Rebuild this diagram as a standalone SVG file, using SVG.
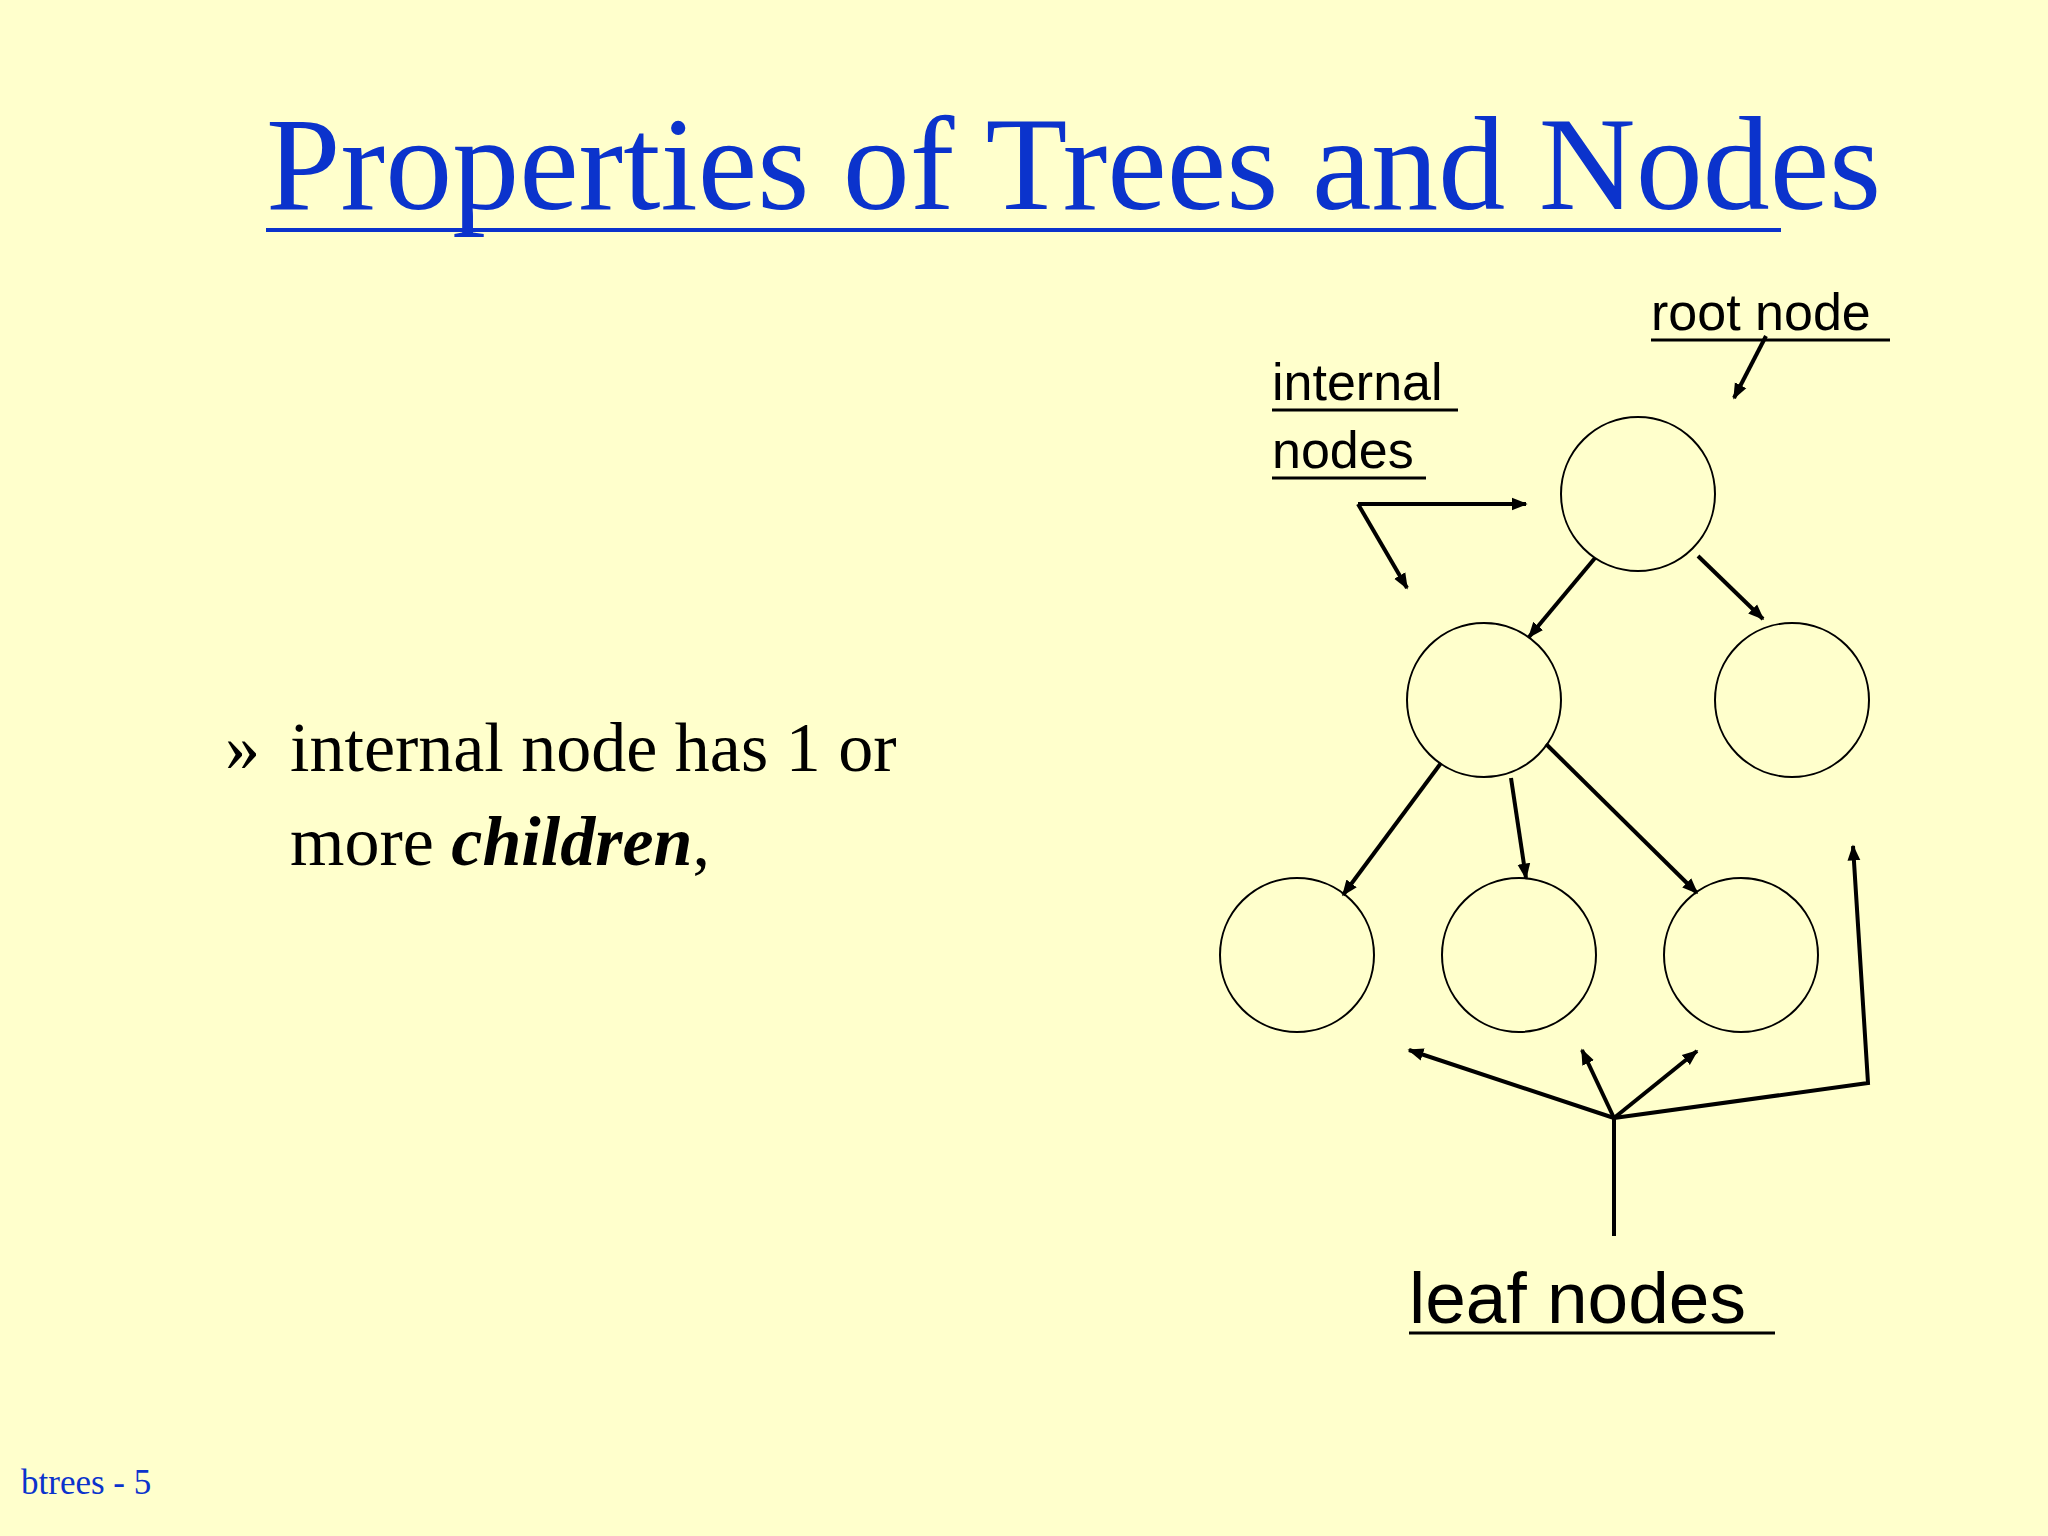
<svg xmlns="http://www.w3.org/2000/svg" width="2048" height="1536" viewBox="0 0 2048 1536">
<defs>
<marker id="ah" viewBox="0 0 10 10" refX="9" refY="5" markerWidth="4" markerHeight="4" orient="auto" markerUnits="strokeWidth"><path d="M0,1 L10,5 L0,9 z" fill="#000"/></marker>
<style>
.n{fill:none;stroke:#000;stroke-width:2}
.c{fill:none;stroke:#000;stroke-width:4;marker-end:url(#ah)}
.p{fill:none;stroke:#000;stroke-width:4}
.lb{font-family:"Liberation Sans",Arial,sans-serif;fill:#000}
.ul{stroke:#000;stroke-width:3}
.tm{font-family:"Liberation Serif","Times New Roman",serif;fill:#000}
</style>
</defs>
<rect width="2048" height="1536" fill="#ffffcc"/>
<text x="266" y="209" font-family="Liberation Serif,Times New Roman,serif" font-size="134" fill="#0b33cc">Properties of Trees and Nodes</text>
<line x1="266" y1="230" x2="1781" y2="230" stroke="#0b33cc" stroke-width="4"/>
<text x="225" y="771" class="tm" font-size="70">»</text>
<text x="290" y="771" class="tm" font-size="70">internal node has 1 or</text>
<text x="290" y="865" class="tm" font-size="70">more <tspan font-weight="bold" font-style="italic">children</tspan>,</text>
<text x="21" y="1494" font-family="Liberation Serif,serif" font-size="35" fill="#0b33cc">btrees - 5</text>
<g id="labels">
<text x="1651" y="330" class="lb" font-size="52">root node</text><line class="ul" x1="1651" y1="340" x2="1890" y2="340"/>
<text x="1272" y="400" class="lb" font-size="52">internal</text><line class="ul" x1="1272" y1="410" x2="1458" y2="410"/>
<text x="1272" y="468" class="lb" font-size="52">nodes</text><line class="ul" x1="1272" y1="478" x2="1426" y2="478"/>
<text x="1409" y="1323" class="lb" font-size="73">leaf nodes</text><line class="ul" x1="1409" y1="1333" x2="1775" y2="1333"/>
</g>
<g id="root"><circle class="n" cx="1638" cy="494" r="77"/></g>
<g id="internal"><circle class="n" cx="1484" cy="700" r="77"/></g>
<g id="right"><circle class="n" cx="1792" cy="700" r="77"/></g>
<g id="leaf1"><circle class="n" cx="1297" cy="955" r="77"/></g>
<g id="leaf2"><circle class="n" cx="1519" cy="955" r="77"/></g>
<g id="leaf3"><circle class="n" cx="1741" cy="955" r="77"/></g>
<g id="connectors">
<line class="c" x1="1766" y1="336" x2="1734" y2="398"/>
<line class="c" x1="1358" y1="504" x2="1526" y2="504"/>
<line class="c" x1="1358" y1="504" x2="1407" y2="588"/>
<line class="c" x1="1595" y1="558" x2="1529" y2="637"/>
<line class="c" x1="1698" y1="556" x2="1763" y2="619"/>
<line class="c" x1="1441" y1="763" x2="1343" y2="895"/>
<line class="c" x1="1511" y1="778" x2="1526" y2="878"/>
<line class="c" x1="1546" y1="744" x2="1697" y2="893"/>
<line class="p" x1="1614" y1="1236" x2="1614" y2="1118"/>
<line class="c" x1="1614" y1="1118" x2="1409" y2="1050"/>
<line class="c" x1="1614" y1="1118" x2="1582" y2="1050"/>
<line class="c" x1="1614" y1="1118" x2="1697" y2="1051"/>
<polyline class="c" points="1614,1118 1868,1083 1853,846"/>
</g>
</svg>
